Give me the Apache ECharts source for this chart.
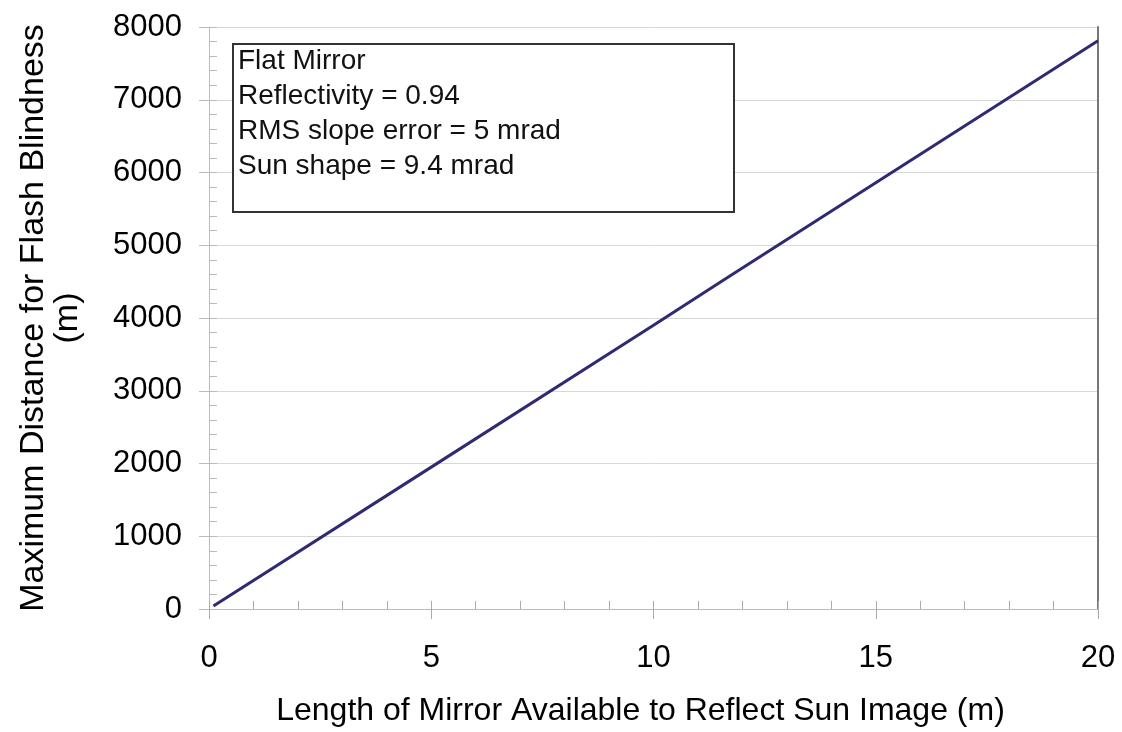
<!DOCTYPE html>
<html>
<head>
<meta charset="utf-8">
<script src="https://cdn.jsdelivr.net/npm/echarts@6/dist/echarts.min.js"></script>
<style>
  html, body { margin: 0; padding: 0; background: #fff; }
  #chart { width: 1122px; height: 732px; }
</style>
</head>
<body>
<div id="chart"></div>
<script>
// mirror length (m) vs max distance for flash blindness (m)
var mirrorLength = [0.1, 5, 10, 11.7, 15, 20];
var flashDistance = [40, 1950, 3900, 4570, 5860, 7810];

var noteLines = ['Flat Mirror', 'Reflectivity = 0.94', 'RMS slope error = 5 mrad', 'Sun shape = 9.4 mrad'];

var font = "'Liberation Sans', Arial, sans-serif";
var lineData = [];
for (var i = 0; i < mirrorLength.length; i++) {
    lineData.push([mirrorLength[i], flashDistance[i]]);
}

var myChart = echarts.init(document.getElementById('chart'));

var option = {
    animation: false,
    backgroundColor: '#fff',
    grid: {
        left: 209,
        right: 24,
        top: 27,
        bottom: 120
    },
    xAxis: [
        {
            type: 'value',
            min: 0,
            max: 20,
            interval: 5,
            name: 'Length of Mirror Available to Reflect Sun Image (m)',
            nameLocation: 'middle',
            nameGap: 86,
            nameTextStyle: { fontSize: 32, color: '#000', fontFamily: font, padding: [0, 26, 0, 0] },
            axisLine: { show: true, lineStyle: { color: '#bbb', width: 1 } },
            axisTick: { show: true, inside: false, length: 10, lineStyle: { color: '#aaa' } },
            axisLabel: { fontSize: 31, color: '#000', fontFamily: font, margin: 34 },
            splitLine: { show: false }
        },
        {
            // inner minor ticks
            type: 'value',
            min: 0,
            max: 20,
            interval: 1,
            position: 'bottom',
            axisLine: { show: false },
            axisTick: { show: true, inside: true, length: 8, lineStyle: { color: '#aaa' } },
            axisLabel: { show: false },
            splitLine: { show: false }
        }
    ],
    yAxis: [
        {
            type: 'value',
            min: 0,
            max: 8000,
            interval: 1000,
            name: 'Maximum Distance for Flash Blindness\n(m)',
            nameLocation: 'middle',
            nameGap: 124,
            nameTextStyle: { fontSize: 34, color: '#000', fontFamily: font, lineHeight: 34 },
            axisLine: { show: true, lineStyle: { color: '#bbb', width: 1 } },
            axisTick: { show: true, inside: false, length: 10, lineStyle: { color: '#bbb' } },
            axisLabel: {
                fontSize: 31, color: '#000', fontFamily: font, margin: 27,
                formatter: function (v) { return String(v); }
            },
            splitLine: { show: true, lineStyle: { color: '#d8d8d8', width: 1 } }
        },
        {
            type: 'value',
            min: 0,
            max: 8000,
            interval: 200,
            position: 'left',
            axisLine: { show: false },
            axisTick: { show: true, inside: true, length: 8, lineStyle: { color: '#bbb' } },
            axisLabel: { show: false },
            splitLine: { show: false }
        },
        {
            // right frame edge
            type: 'value',
            min: 0,
            max: 8000,
            position: 'right',
            axisLine: { show: true, lineStyle: { color: '#777', width: 2 } },
            axisTick: { show: false },
            axisLabel: { show: false },
            splitLine: { show: false }
        }
    ],
    graphic: [
        {
            type: 'rect',
            left: 232,
            top: 43,
            shape: { width: 501, height: 168 },
            style: { fill: '#fff', stroke: '#333', lineWidth: 2 },
            z: 10
        },
        {
            type: 'text',
            left: 238,
            top: 44,
            style: {
                text: noteLines.join('\n'),
                font: '28px ' + font,
                fill: '#111',
                lineHeight: 35
            },
            z: 11
        }
    ],
    series: [
        {
            name: 'Flat Mirror',
            type: 'line',
            xAxisIndex: 0,
            yAxisIndex: 0,
            showSymbol: false,
            lineStyle: { color: '#2f2a72', width: 3 },
            itemStyle: { color: '#2f2a72' },
            data: lineData
        }
    ]
};
myChart.setOption(option);
</script>
</body>
</html>
